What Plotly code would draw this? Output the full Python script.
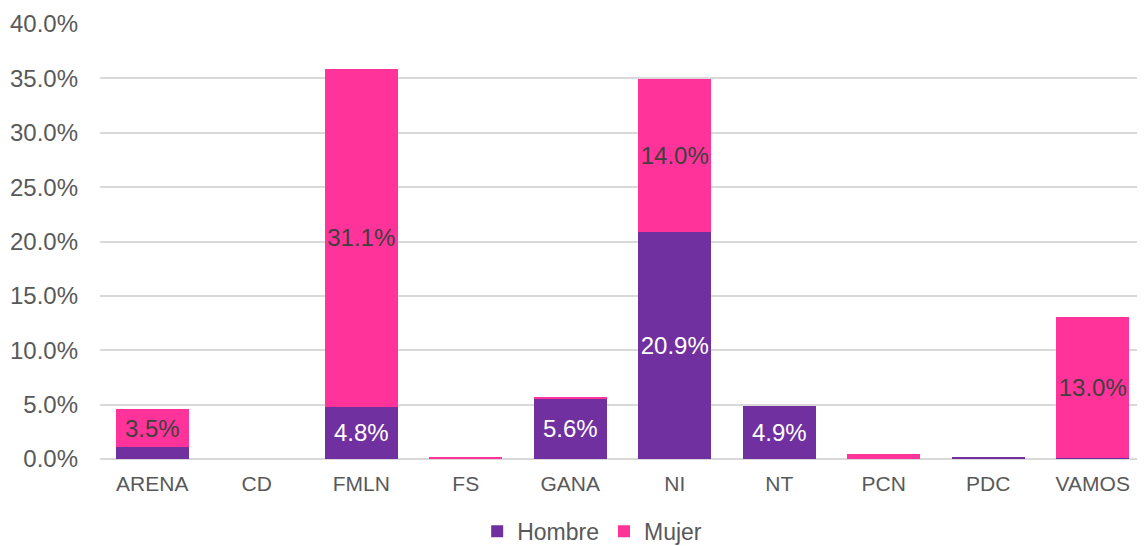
import plotly.graph_objects as go

categories = ["ARENA", "CD", "FMLN", "FS", "GANA", "NI", "NT", "PCN", "PDC", "VAMOS"]
hombre = [1.1, 0.0, 4.8, 0.0, 5.6, 20.9, 4.9, 0.0, 0.2, 0.1]
mujer = [3.5, 0.0, 31.1, 0.1, 0.1, 14.0, 0.0, 0.5, 0.0, 13.0]
y_ticks = [0, 5, 10, 15, 20, 25, 30, 35, 40]
y_tick_labels = [f"{v:.1f}%" for v in y_ticks]

def labels(vals):
    return [f"{v:.1f}%" if v >= 3 else "" for v in vals]

FONT = "Liberation Sans, Arial, sans-serif"

fig = go.Figure()
fig.add_trace(go.Bar(
    name="Hombre", x=categories, y=hombre, marker_color="#7030A0",
    text=labels(hombre), textposition="inside", insidetextanchor="middle",
    textangle=0, constraintext="none",
    textfont=dict(color="white", size=24, family=FONT),
    marker_line_width=0,
))
fig.add_trace(go.Bar(
    name="Mujer", x=categories, y=mujer, marker_color="#FF3399",
    text=labels(mujer), textposition="inside", insidetextanchor="middle",
    textangle=0, constraintext="none",
    textfont=dict(color="#404040", size=24, family=FONT),
    marker_line_width=0,
))

# page body has an 8px default margin, so the figure is offset by 8px
fig.update_layout(
    barmode="stack", bargap=0.30,
    width=1137, height=538,
    margin=dict(l=92, r=0, t=16, b=87, autoexpand=False),
    paper_bgcolor="white", plot_bgcolor="white",
    font=dict(family=FONT, size=22, color="#595959"),
    showlegend=True,
    legend=dict(orientation="h", x=0.471, xanchor="center", y=-0.117, yanchor="top",
                font=dict(size=23, color="#595959"), traceorder="normal",
                itemwidth=30),
    uniformtext=dict(mode=False),
)
fig.update_yaxes(range=[0, 40], tickvals=y_ticks, ticktext=y_tick_labels,
                 showgrid=True, gridcolor="#D9D9D9", gridwidth=2,
                 zeroline=True, zerolinecolor="#D9D9D9", zerolinewidth=2,
                 showline=False, ticks="", ticklen=0, automargin=False,
                 ticklabelstandoff=21,
                 tickfont=dict(size=24, color="#595959"))
fig.update_xaxes(showline=False, ticks="", automargin=False, ticklabelstandoff=10,
                 tickfont=dict(size=21, color="#595959"))

fig.write_html("out.html")
